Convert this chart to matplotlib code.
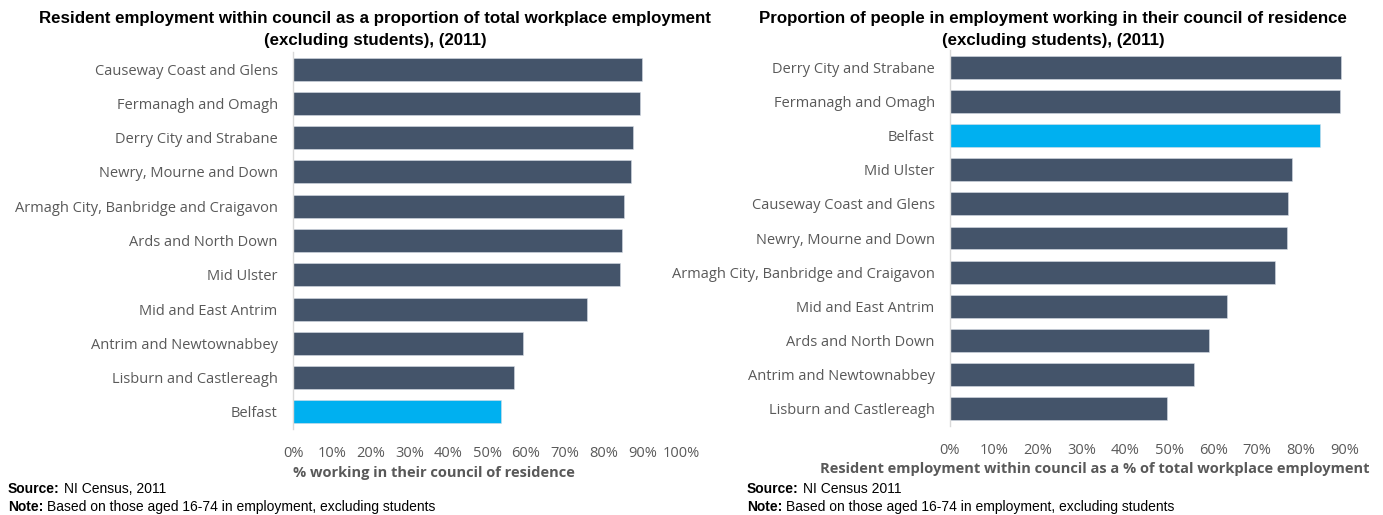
import matplotlib
matplotlib.use("Agg")
import matplotlib.pyplot as plt
from matplotlib.ticker import PercentFormatter

# left panel: resident employment as share of workplace employment
left_councils = ["Causeway Coast and Glens", "Fermanagh and Omagh", "Derry City and Strabane",
                 "Newry, Mourne and Down", "Armagh City, Banbridge and Craigavon",
                 "Ards and North Down", "Mid Ulster", "Mid and East Antrim",
                 "Antrim and Newtownabbey", "Lisburn and Castlereagh", "Belfast"]
left_values = [0.900, 0.894, 0.876, 0.872, 0.852, 0.849, 0.842, 0.758, 0.593, 0.569, 0.535]

# right panel: share of employed residents working in own council
right_councils = ["Derry City and Strabane", "Fermanagh and Omagh", "Belfast", "Mid Ulster",
                  "Causeway Coast and Glens", "Newry, Mourne and Down",
                  "Armagh City, Banbridge and Craigavon", "Mid and East Antrim",
                  "Ards and North Down", "Antrim and Newtownabbey", "Lisburn and Castlereagh"]
right_values = [0.890, 0.888, 0.843, 0.780, 0.771, 0.768, 0.741, 0.632, 0.590, 0.556, 0.495]

DARK = "#44546A"
HIGHLIGHT = "#00B0F0"
GREY = "#595959"
W, H = 1383, 515

fig = plt.figure(figsize=(W / 100, H / 100), dpi=100)


def px_axes(x0, x1, ytop, ybot):
    return fig.add_axes([x0 / W, (H - ybot) / H, (x1 - x0) / W, (ybot - ytop) / H])


def draw(ax, names, vals, xmax, ticks):
    pos = list(range(len(names)))
    colors = [HIGHLIGHT if n == "Belfast" else DARK for n in names]
    ax.barh(pos, vals, height=0.67, color=colors, edgecolor="#D6DCE5", linewidth=0.4)
    ax.set_ylim(len(names) - 0.5, -0.5)
    ax.set_xlim(0, xmax)
    ax.set_yticks(pos)
    ax.set_yticklabels(names, fontsize=10.5, color=GREY, family="Open Sans")
    ax.set_xticks(ticks)
    ax.xaxis.set_major_formatter(PercentFormatter(1.0, decimals=0))
    for lbl in ax.get_xticklabels():
        lbl.set_family("Open Sans")
        lbl.set_fontsize(10.5)
        lbl.set_color(GREY)
    ax.tick_params(axis="both", length=0)
    ax.tick_params(axis="x", pad=12)
    ax.tick_params(axis="y", pad=11)
    for s in ["top", "right", "bottom"]:
        ax.spines[s].set_visible(False)
    ax.spines["left"].set_color("#D9D9D9")
    ax.spines["left"].set_linewidth(1.0)


ax1 = px_axes(293, 681, 52, 429)
draw(ax1, left_councils, left_values, 1.0, [i / 10 for i in range(11)])

ax2 = px_axes(950, 1345, 50, 426)
draw(ax2, right_councils, right_values, 0.9, [i / 10 for i in range(10)])

# titles
title_kw = dict(ha="center", va="center", fontsize=12.2, fontweight="bold", family="Liberation Sans")
fig.text(375 / W, 1 - 19 / H, "Resident employment within council as a proportion of total workplace employment", **title_kw)
fig.text(375 / W, 1 - 40 / H, "(excluding students), (2011)", **title_kw)
fig.text(1053 / W, 1 - 19 / H, "Proportion of people in employment working in their council of residence", **title_kw)
fig.text(1053 / W, 1 - 40 / H, "(excluding students), (2011)", **title_kw)

# axis titles
fig.text(434 / W, 1 - 473 / H, "% working in their council of residence",
         ha="center", va="center", fontsize=10.5, fontweight="bold", color=GREY, family="Open Sans")
fig.text(1095 / W, 1 - 469 / H, "Resident employment within council as a % of total workplace employment",
         ha="center", va="center", fontsize=10.5, fontweight="bold", color=GREY, family="Open Sans")

# source and note lines: bold label followed by plain text
renderer = fig.canvas.get_renderer()


def label_line(x0, y0, head, body):
    t = fig.text(x0 / W, 1 - y0 / H, head, ha="left", va="center",
                 fontsize=10, fontweight="bold", family="Liberation Sans")
    bb = t.get_window_extent(renderer)
    fig.text((bb.x1 + 4) / W, 1 - y0 / H, body, ha="left", va="center",
             fontsize=10, family="Liberation Sans")


for x0, src in [(8, "NI Census, 2011"), (747, "NI Census 2011")]:
    label_line(x0, 489, "Source:", src)
    label_line(x0, 507, "Note:", "Based on those aged 16-74 in employment, excluding students")

fig.savefig("out.png", dpi=100)
